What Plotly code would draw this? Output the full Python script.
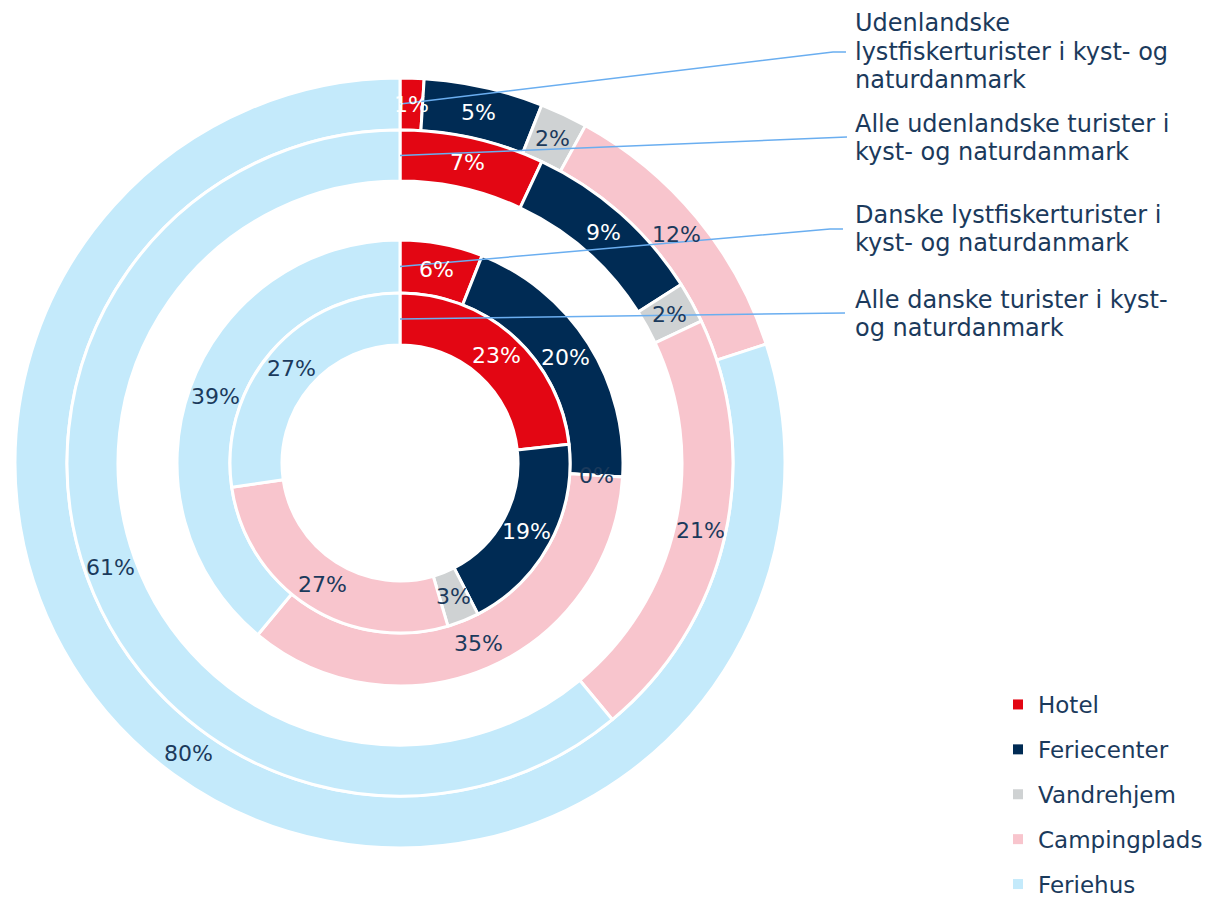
import math
import plotly.graph_objects as go

# ---------------- data ----------------
categories = ["Hotel", "Feriecenter", "Vandrehjem", "Campingplads", "Feriehus"]

series_names = [
    ["Udenlandske", "lystfiskerturister i kyst- og", "naturdanmark"],
    ["Alle udenlandske turister i", "kyst- og naturdanmark"],
    ["Danske lystfiskerturister i", "kyst- og naturdanmark"],
    ["Alle danske turister i kyst-", "og naturdanmark"],
]
udl_lystfisker = [1, 5, 2, 12, 80]
alle_udenlandske = [7, 9, 2, 21, 61]
dk_lystfisker = [6, 20, 0, 35, 39]
alle_danske = [23, 19, 3, 27, 27]

# ---------------- style ----------------
colors = ["#E30613", "#002B54", "#CFD2D3", "#F8C5CD", "#C4EAFB"]
label_colors = ["#FFFFFF", "#FFFFFF", "#1B3A5C", "#1B3A5C", "#1B3A5C"]
TEXT = "#1B3A5C"
LEADER = "#6AAEF0"
FONT = "DejaVu Sans"

W, H = 1220, 900
CX, CY = 400, 463           # centre of the rings (px, from top-left)
ring_outer = [385, 333, 223, 170]
ring_inner = [333, 282, 170, 118]

series_values = [udl_lystfisker, alle_udenlandske, dk_lystfisker, alle_danske]

fig = go.Figure()

annotations = []
shapes = []

for i, vals in enumerate(series_values):
    R, r = ring_outer[i], ring_inner[i]
    fig.add_trace(go.Pie(
        labels=categories,
        values=vals,
        name=" ".join(series_names[i]),
        sort=False,
        direction="clockwise",
        rotation=0,
        hole=r / R,
        marker=dict(colors=colors, line=dict(color="white", width=3)),
        textinfo="none",
        showlegend=False,
        domain=dict(x=[(CX - R) / W, (CX + R) / W],
                    y=[1 - (CY + R) / H, 1 - (CY - R) / H]),
    ))
    # percentage labels at slice centres
    total = sum(vals)
    cum = 0
    rm = (R + r) / 2
    for j, v in enumerate(vals):
        f = (cum + v / 2) / total
        th = 2 * math.pi * f
        px = CX + rm * math.sin(th)
        py = CY - rm * math.cos(th)
        annotations.append(dict(
            x=px / W, y=1 - py / H, xref="paper", yref="paper",
            text=f"{v}%", showarrow=False,
            font=dict(family=FONT, size=22, color=label_colors[j]),
            xanchor="center", yanchor="middle",
        ))
        cum += v

# series labels (one annotation per line) with leader lines
label_x = 853
label_lines_y = [[23, 52, 80], [124, 152], [215, 243], [300, 328]]
leader_ends = [[(833, 52), (846, 52)], [(847, 137)], [(830, 229), (843, 229)], [(845, 313)]]
for i in range(4):
    rm = (ring_outer[i] + ring_inner[i]) / 2
    pts = [(CX, CY - rm)] + leader_ends[i]
    path = "M " + " L ".join(f"{x / W:.5f},{1 - y / H:.5f}" for x, y in pts)
    shapes.append(dict(type="path", xref="paper", yref="paper", path=path,
                       line=dict(color=LEADER, width=1.5)))
    for line_text, ly in zip(series_names[i], label_lines_y[i]):
        annotations.append(dict(
            x=label_x / W, y=1 - ly / H, xref="paper", yref="paper",
            text=line_text, showarrow=False, align="left",
            xanchor="left", yanchor="middle",
            font=dict(family=FONT, size=24, color=TEXT),
        ))

# legend entries
for j, c in enumerate(categories):
    fig.add_trace(go.Scatter(
        x=[None], y=[None], mode="markers", name=c,
        marker=dict(symbol="square", size=10, color=colors[j]),
        legendgroup=c, showlegend=True, hoverinfo="skip",
    ))

fig.update_layout(
    width=W, height=H,
    margin=dict(l=0, r=0, t=0, b=0, autoexpand=False),
    paper_bgcolor="white", plot_bgcolor="white",
    xaxis=dict(visible=False), yaxis=dict(visible=False),
    showlegend=True,
    legend=dict(
        x=998 / W, y=1 - 683 / H, xanchor="left", yanchor="top",
        font=dict(family=FONT, size=23, color=TEXT),
        traceorder="grouped", tracegroupgap=12,
        bgcolor="rgba(0,0,0,0)",
    ),
    annotations=annotations,
    shapes=shapes,
)

fig.write_html("out.html", config={"displayModeBar": False},
               post_script="document.body.style.margin='0px';")
